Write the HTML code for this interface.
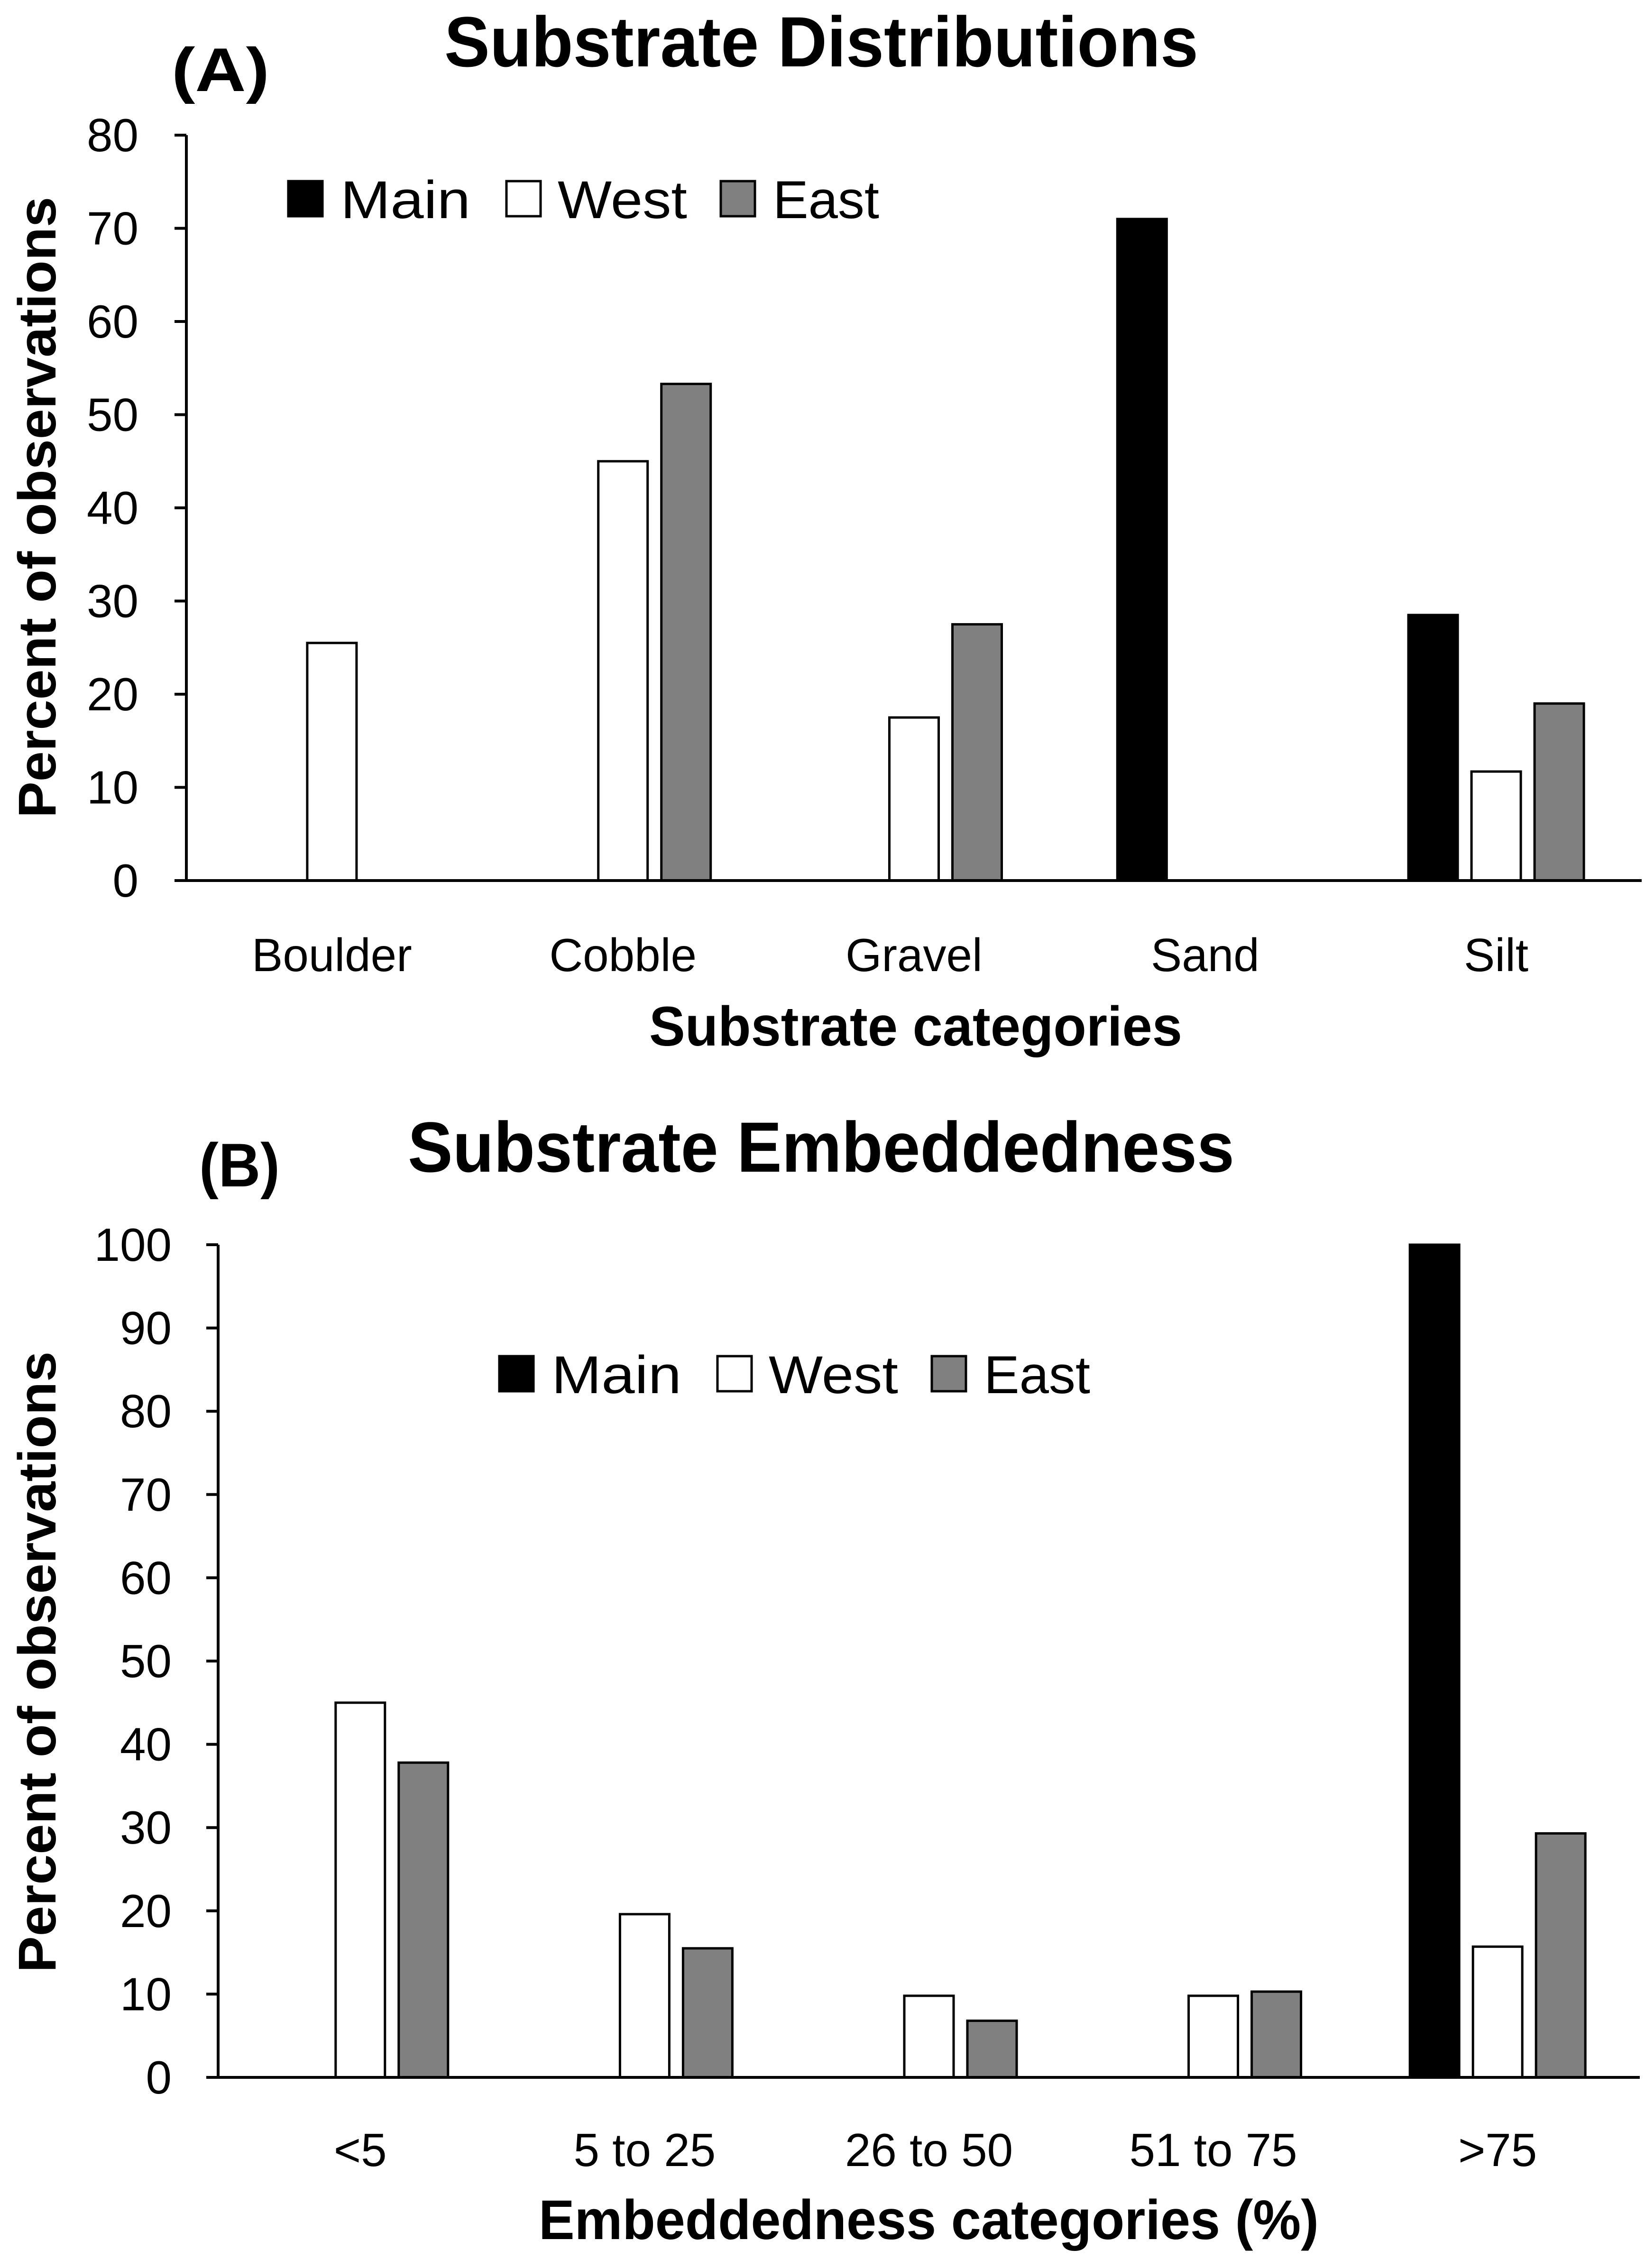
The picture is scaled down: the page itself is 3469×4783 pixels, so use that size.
<!DOCTYPE html>
<html><head><meta charset="utf-8"><style>html,body{margin:0;padding:0;background:#fff}svg{display:block}text{font-family:"Liberation Sans",sans-serif;fill:#000}</style></head>
<body>
<svg id="fig" width="3469" height="4783" viewBox="0 0 3469 4783" xmlns="http://www.w3.org/2000/svg"></svg>
<script>
const seriesNames = ["Main","West","East"];
const seriesFill = ["#000000","#ffffff","#808080"];
// Panel A
const catsA = ["Boulder","Cobble","Gravel","Sand","Silt"];
const mainA = [0,0,0,71,28.5];
const westA = [25.5,45,17.5,0,11.7];
const eastA = [0,53.3,27.5,0,19];
const ticksA = [0,10,20,30,40,50,60,70,80];
// Panel B
const catsB = ["<5","5 to 25","26 to 50","51 to 75",">75"];
const mainB = [0,0,0,0,100];
const westB = [45,19.6,9.8,9.8,15.7];
const eastB = [37.8,15.5,6.8,10.3,29.3];
const ticksB = [0,10,20,30,40,50,60,70,80,90,100];

const NS="http://www.w3.org/2000/svg";
const svg=document.getElementById('fig');
function mk(tag,attrs,parent,txt){const e=document.createElementNS(NS,tag);for(const k in attrs)e.setAttribute(k,attrs[k]);if(txt!==undefined)e.textContent=txt;(parent||svg).appendChild(e);return e;}

function panel(cfg){
  const g=mk('g',{});
  
  
  const ymax=cfg.ticks[cfg.ticks.length-1];
  const y=v=>cfg.y0-(cfg.y0-cfg.yTop)*v/ymax;
  const cw=(cfg.xR-cfg.x0)/cfg.cats.length;
  const cx=i=>cfg.x0+cw*(i+0.5);
  // bars
  const series=[cfg.main,cfg.west,cfg.east];
  series.forEach((arr,s)=>{
    arr.forEach((v,i)=>{
      if(v<=0)return;
      const bx=cx(i)+(s-1)*133-52;
      const r=mk('rect',{x:bx,y:y(v),width:104,height:y(0)-y(v),fill:seriesFill[s],stroke:'#000','stroke-width':5},g);
      
      
    });
  });
  // axes
  const ya=mk('line',{x1:cfg.x0,y1:cfg.yTop,x2:cfg.x0,y2:cfg.y0,stroke:'#000','stroke-width':6},g);
  
  
  const xa=mk('line',{x1:cfg.x0-25,y1:cfg.y0,x2:cfg.xR,y2:cfg.y0,stroke:'#000','stroke-width':6},g);
  
  
  cfg.ticks.forEach(t=>{
    mk('line',{x1:cfg.x0-25,y1:y(t),x2:cfg.x0,y2:y(t),stroke:'#000','stroke-width':6},g);
    const tl=mk('text',{x:cfg.tickX,y:y(t)+34,'font-size':98,'text-anchor':'end'},g,String(t));
    
    
  });
  cfg.cats.forEach((c,i)=>{
    const cl=mk('text',{x:cx(i),y:cfg.catY,'font-size':98,'text-anchor':'middle'},g,c);
    
    
  });
  // legend
  const lx=cfg.legX, ly=cfg.legY;
  const sq=[0,460,912], tx=[110,568,1022], tw=[274,273,224];
  seriesNames.forEach((n,s)=>{
    const r=mk('rect',{x:lx+sq[s],y:ly,width:72,height:74,fill:seriesFill[s],stroke:'#000','stroke-width':5},g);
    
    
    const t=mk('text',{x:lx+tx[s],y:ly+78,'font-size':112,textLength:tw[s],lengthAdjust:'spacingAndGlyphs'},g,n);
    
    
  });
  // titles
  const tt=mk('text',{x:cfg.title[1],y:cfg.title[2],'font-size':150,'font-weight':'bold',textLength:cfg.title[3],lengthAdjust:'spacingAndGlyphs'},g,cfg.title[0]);
  
  
  const pl=mk('text',{x:cfg.lab[1],y:cfg.lab[2],'font-size':130,'font-weight':'bold',textLength:cfg.lab[3],lengthAdjust:'spacingAndGlyphs'},g,cfg.lab[0]);
  
  
  const xt=mk('text',{x:cfg.xt[1],y:cfg.xt[2],'font-size':118,'font-weight':'bold',textLength:cfg.xt[3],lengthAdjust:'spacingAndGlyphs'},g,cfg.xt[0]);
  
  
  const yt=mk('text',{x:0,y:0,'font-size':112,'font-weight':'bold','text-anchor':'middle',textLength:1310,lengthAdjust:'spacingAndGlyphs',transform:`translate(117,${cfg.ytY}) rotate(-90)`},g,'Percent of observations');
  
  
}

panel({name:'panel-a-substrate-distributions',cats:catsA,main:mainA,west:westA,east:eastA,ticks:ticksA,
  x0:393,xR:3462,yTop:285,y0:1857,tickX:292,catY:2048,legX:608,legY:382,
  title:['Substrate Distributions',937,140,1590],lab:['(A)',362,192,206],
  xt:['Substrate categories',1369,2205,1124],ytY:1070});
panel({name:'panel-b-substrate-embeddedness',cats:catsB,main:mainB,west:westB,east:eastB,ticks:ticksB,
  x0:460,xR:3458,yTop:2625,y0:4381,tickX:362,catY:4568,legX:1053,legY:2860,
  title:['Substrate Embeddedness',860,2471,1743],lab:['(B)',420,2502,170],
  xt:['Embeddedness categories (%)',1136,4722,1645],ytY:3505});
</script>
</body></html>
